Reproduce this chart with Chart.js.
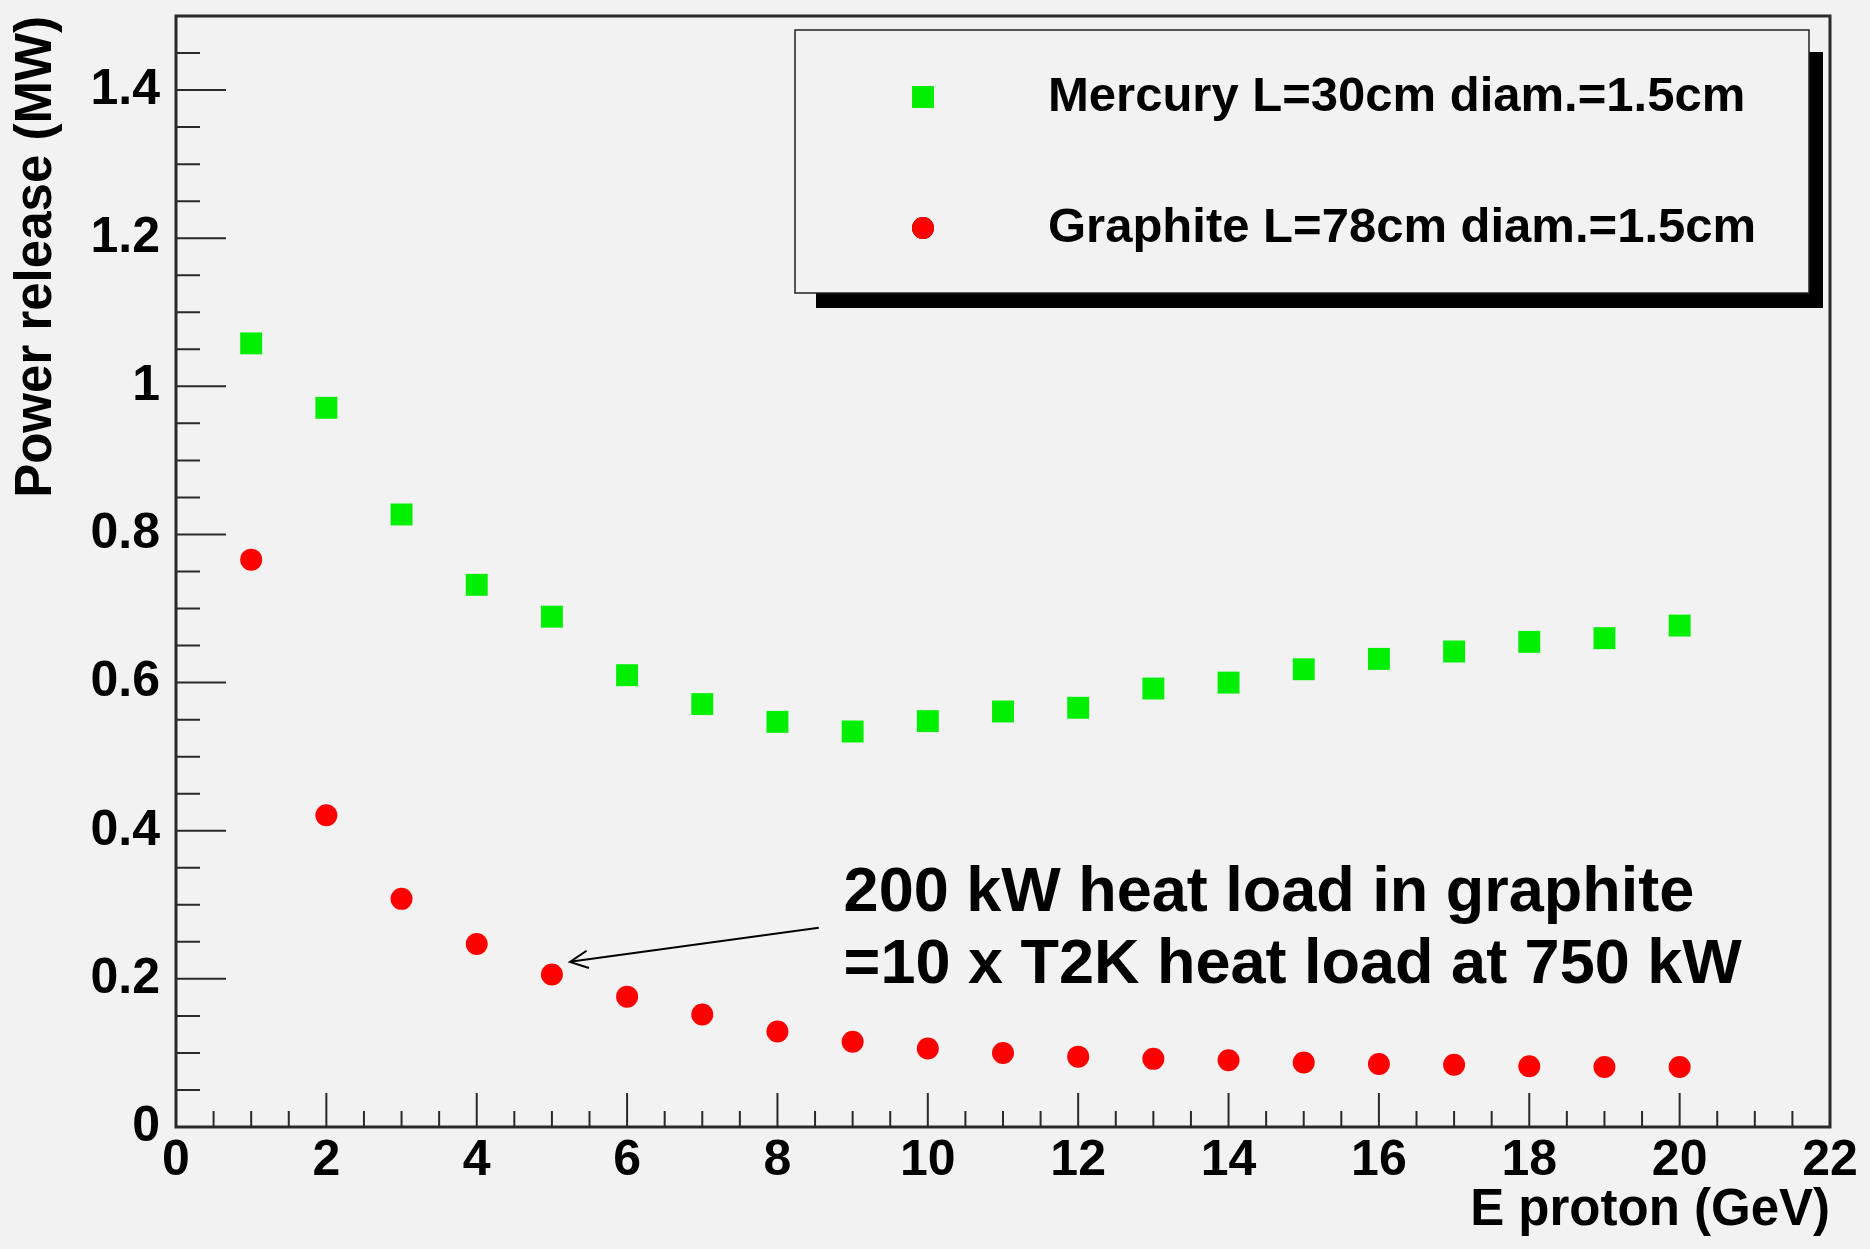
<!DOCTYPE html>
<html>
<head>
<meta charset="utf-8">
<script src="https://cdn.jsdelivr.net/npm/chart.js@4.4.1/dist/chart.umd.min.js"></script>
<style>
  html, body { margin: 0; padding: 0; background: #f2f2f2; }
  #wrap { width: 1870px; height: 1249px; }
</style>
</head>
<body>
<div id="wrap"><canvas id="powerChart"></canvas></div>
<script>
// E proton (GeV)
const energies = [1, 2, 3, 4, 5, 6, 7, 8, 9, 10, 11, 12, 13, 14, 15, 16, 17, 18, 19, 20];
// power release (MW)
const mercuryPower = [1.058, 0.971, 0.827, 0.732, 0.689, 0.610, 0.571, 0.547, 0.534, 0.548,
                      0.561, 0.566, 0.592, 0.600, 0.618, 0.632, 0.642, 0.655, 0.660, 0.677];
const graphitePower = [0.766, 0.421, 0.308, 0.247, 0.206, 0.176, 0.152, 0.129, 0.115, 0.106,
                       0.100, 0.095, 0.092, 0.090, 0.087, 0.085, 0.084, 0.082, 0.081, 0.081];
const seriesLabels = ['Mercury L=30cm diam.=1.5cm', 'Graphite L=78cm diam.=1.5cm'];
const noteLines = ['200 kW heat load in graphite', '=10 x T2K heat load at 750 kW'];

const FONT = '"Liberation Sans", Arial, Helvetica, sans-serif';

function toPoints(xs, ys) {
    return xs.map((x, i) => ({ x: x, y: ys[i] }));
}

// inward major/minor ticks + closed frame
const frameTicks = {
    id: 'frameTicks',
    afterDraw(chart) {
        const ctx = chart.ctx;
        const a = chart.chartArea;
        const xs = chart.scales.x, ys = chart.scales.y;
        ctx.save();
        ctx.strokeStyle = '#2a2a2a';
        ctx.lineWidth = 2;
        ctx.beginPath();
        xs.ticks.forEach(t => {
            const px = xs.getPixelForValue(t.value);
            const major = Math.abs(t.value / 2 - Math.round(t.value / 2)) < 1e-6;
            const len = major ? 34 : 16;
            ctx.moveTo(px, a.bottom);
            ctx.lineTo(px, a.bottom - len);
        });
        ys.ticks.forEach(t => {
            const py = ys.getPixelForValue(t.value);
            const major = Math.abs(t.value / 0.2 - Math.round(t.value / 0.2)) < 1e-6;
            const len = major ? 50 : 24;
            ctx.moveTo(a.left, py);
            ctx.lineTo(a.left + len, py);
        });
        ctx.stroke();
        ctx.lineWidth = 3;
        ctx.strokeRect(a.left, a.top, a.right - a.left, a.bottom - a.top);
        ctx.restore();
    }
};

// boxed legend with drop shadow, drawn from dataset styles
const boxLegend = {
    id: 'boxLegend',
    afterDraw(chart) {
        const ctx = chart.ctx;
        const a = chart.chartArea;
        const left = a.left + 619, top = 30, w = 1014, h = 263;
        ctx.save();
        ctx.fillStyle = '#000';
        ctx.fillRect(left + 21, top + 22, w - 7, h - 7);
        ctx.fillStyle = '#f2f2f2';
        ctx.fillRect(left, top, w, h);
        ctx.strokeStyle = '#222';
        ctx.lineWidth = 1.5;
        ctx.strokeRect(left, top, w, h);
        const rows = [97, 228];
        chart.data.datasets.forEach((ds, i) => {
            Chart.helpers.drawPoint(ctx, {
                pointStyle: ds.pointStyle,
                radius: ds.pointRadius,
                borderWidth: 0
            }, left + 128, rows[i]);
            ctx.fillStyle = ds.backgroundColor;
            ctx.fill();
            ctx.fillStyle = '#000';
            ctx.font = 'bold 49px ' + FONT;
            ctx.textBaseline = 'middle';
            ctx.textAlign = 'left';
            ctx.fillText(ds.label, left + 253, rows[i]);
        });
        ctx.restore();
    }
};

// annotation text + arrow placed in data units
const note = { textX: 8.88, line1Y: 0.291, line2Y: 0.195, arrowFrom: [8.55, 0.269], arrowTo: [5.24, 0.223] };
const noteText = {
    id: 'noteText',
    afterDraw(chart) {
        const ctx = chart.ctx;
        const xs = chart.scales.x, ys = chart.scales.y;
        ctx.save();
        ctx.fillStyle = '#000';
        ctx.font = 'bold 63px "Comic Sans MS", ' + FONT;
        ctx.textAlign = 'left';
        ctx.textBaseline = 'alphabetic';
        ctx.fillText(noteLines[0], xs.getPixelForValue(note.textX), ys.getPixelForValue(note.line1Y));
        ctx.fillText(noteLines[1], xs.getPixelForValue(note.textX), ys.getPixelForValue(note.line2Y));
        const x1 = xs.getPixelForValue(note.arrowFrom[0]), y1 = ys.getPixelForValue(note.arrowFrom[1]);
        const x2 = xs.getPixelForValue(note.arrowTo[0]), y2 = ys.getPixelForValue(note.arrowTo[1]);
        const ang = Math.atan2(y2 - y1, x2 - x1);
        ctx.strokeStyle = '#000';
        ctx.lineWidth = 2;
        ctx.beginPath();
        ctx.moveTo(x1, y1);
        ctx.lineTo(x2, y2);
        ctx.moveTo(x2 - 20 * Math.cos(ang - 0.45), y2 - 20 * Math.sin(ang - 0.45));
        ctx.lineTo(x2, y2);
        ctx.lineTo(x2 - 20 * Math.cos(ang + 0.45), y2 - 20 * Math.sin(ang + 0.45));
        ctx.stroke();
        ctx.restore();
    }
};

const ctx = document.getElementById('powerChart').getContext('2d');
new Chart(ctx, {
    type: 'scatter',
    data: {
        datasets: [{
            label: seriesLabels[0],
            data: toPoints(energies, mercuryPower),
            pointStyle: 'rect',
            pointRadius: 15.5,
            backgroundColor: '#00ee00',
            borderWidth: 0
        }, {
            label: seriesLabels[1],
            data: toPoints(energies, graphitePower),
            pointStyle: 'circle',
            pointRadius: 11,
            backgroundColor: '#ff0000',
            borderWidth: 0
        }]
    },
    options: {
        responsive: true,
        maintainAspectRatio: false,
        animation: false,
        layout: { autoPadding: false, padding: { top: 16, right: 40, left: 0, bottom: 0 } },
        plugins: {
            legend: { display: false },
            tooltip: { enabled: false }
        },
        scales: {
            x: {
                type: 'linear',
                min: 0, max: 22,
                grid: { display: false, drawTicks: false },
                border: { display: false },
                ticks: {
                    stepSize: 0.5,
                    autoSkip: false,
                    maxRotation: 0,
                    padding: 4,
                    color: '#000',
                    font: { family: FONT, size: 50, weight: 'bold' },
                    callback: v => (Math.abs(v / 2 - Math.round(v / 2)) < 1e-6 ? String(Math.round(v)) : '')
                },
                title: {
                    display: true,
                    text: 'E proton (GeV)',
                    align: 'end',
                    color: '#000',
                    padding: { top: 0, bottom: 7 },
                    font: { family: FONT, size: 51, weight: 'bold' }
                },
                afterFit: s => { s.height = 122; s.paddingLeft = 0; s.paddingRight = 0; }
            },
            y: {
                type: 'linear',
                min: 0, max: 1.5,
                grid: { display: false, drawTicks: false },
                border: { display: false },
                ticks: {
                    stepSize: 0.05,
                    autoSkip: false,
                    padding: 16,
                    color: '#000',
                    font: { family: FONT, size: 50, weight: 'bold' },
                    callback: v => (Math.abs(v / 0.2 - Math.round(v / 0.2)) < 1e-6 ? String(Math.round(v * 10) / 10) : '')
                },
                title: {
                    display: true,
                    text: 'Power release (MW)',
                    align: 'end',
                    color: '#000',
                    padding: { top: 6, bottom: 0 },
                    font: { family: FONT, size: 51, weight: 'bold' }
                },
                afterFit: s => { s.width = 176; s.paddingTop = 0; s.paddingBottom = 0; }
            }
        }
    },
    plugins: [frameTicks, boxLegend, noteText]
});
</script>
</body>
</html>
